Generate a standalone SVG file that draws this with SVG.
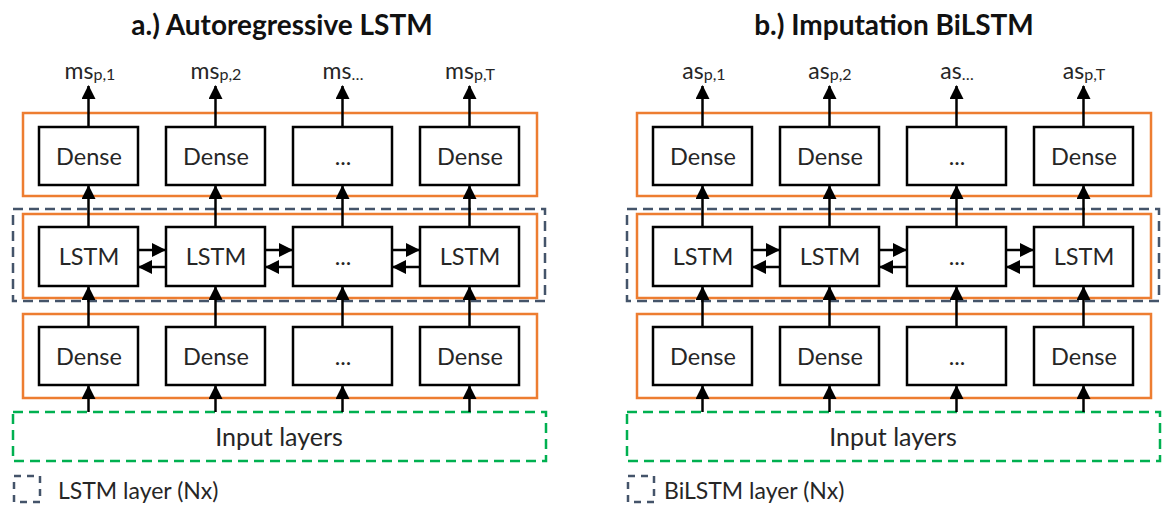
<svg xmlns="http://www.w3.org/2000/svg" width="1162" height="507" viewBox="0 0 1162 507">
<style>
text{font-family:Lato,"Open Sans",sans-serif;fill:#262626}
.t{font-size:28px;font-weight:bold;text-anchor:middle;fill:#111}
.bx{fill:#fff;stroke:#000;stroke-width:2.5}
.bl{font-size:23.5px;text-anchor:middle}
.in{font-size:25px;text-anchor:middle}
.lg{font-size:23px}
.or{fill:none;stroke:#ED7D31;stroke-width:2.5}
.gd{fill:none;stroke:#44546A;stroke-width:2.5;stroke-dasharray:10,6}
.gr{fill:none;stroke:#00B050;stroke-width:2.5;stroke-dasharray:10,6}
.ar{stroke:#000;stroke-width:2.5;fill:none;marker-end:url(#ah)}
.lb{font-size:23px;text-anchor:middle}
.sb{font-size:16px}
</style>
<defs>
<marker id="ah" markerUnits="userSpaceOnUse" markerWidth="14" markerHeight="14" refX="13" refY="7" orient="auto">
<path d="M0,0 L14,7 L0,14 z" fill="#000"/>
</marker>
</defs>

<!-- Panel a -->
<g id="panel-a">
<text class="t" x="282" y="35">a.) Autoregressive LSTM</text>
<g id="a-outputs">
<text class="lb" x="90" y="79">ms<tspan class="sb" dy="1">p,1</tspan></text>
<text class="lb" x="216" y="79">ms<tspan class="sb" dy="1">p,2</tspan></text>
<text class="lb" x="343" y="79">ms<tspan class="sb" dy="1">…</tspan></text>
<text class="lb" x="470" y="79">ms<tspan class="sb" dy="1">p,T</tspan></text>
</g>
<g id="a-dense-top">
<rect class="or" x="23" y="113" width="514" height="83"/>
<rect class="bx" x="39" y="127" width="99" height="58"/><text class="bl" x="89" y="165">Dense</text>
<rect class="bx" x="166" y="127" width="99" height="58"/><text class="bl" x="216" y="165">Dense</text>
<rect class="bx" x="293" y="127" width="99" height="58"/><text class="bl" x="343" y="165">...</text>
<rect class="bx" x="420" y="127" width="99" height="58"/><text class="bl" x="470" y="165">Dense</text>
</g>
<g id="a-lstm">
<rect class="gd" x="13" y="209" width="532" height="92"/>
<rect class="or" x="23" y="214" width="514" height="84"/>
<rect class="bx" x="39" y="227" width="99" height="59"/><text class="bl" x="89" y="265">LSTM</text>
<rect class="bx" x="166" y="227" width="99" height="59"/><text class="bl" x="216" y="265">LSTM</text>
<rect class="bx" x="293" y="227" width="99" height="59"/><text class="bl" x="343" y="265">...</text>
<rect class="bx" x="420" y="227" width="99" height="59"/><text class="bl" x="470" y="265">LSTM</text>
</g>
<g id="a-dense-bottom">
<rect class="or" x="23" y="314" width="514" height="84"/>
<rect class="bx" x="39" y="327" width="99" height="58"/><text class="bl" x="89" y="365">Dense</text>
<rect class="bx" x="166" y="327" width="99" height="58"/><text class="bl" x="216" y="365">Dense</text>
<rect class="bx" x="293" y="327" width="99" height="58"/><text class="bl" x="343" y="365">...</text>
<rect class="bx" x="420" y="327" width="99" height="58"/><text class="bl" x="470" y="365">Dense</text>
</g>
<g id="a-input">
<rect class="gr" x="13" y="412" width="533" height="49"/>
<text class="in" x="279" y="446">Input layers</text>
</g>
<g id="a-legend">
<rect class="gd" x="14" y="476" width="26" height="26" style="stroke-dasharray:7,6"/>
<text class="lg" x="58" y="499">LSTM layer (Nx)</text>
</g>
</g>

<!-- Panel b -->
<g id="panel-b">
<text class="t" x="894" y="35">b.) Imputation BiLSTM</text>
<g id="b-outputs">
<text class="lb" x="704" y="79">as<tspan class="sb" dy="1">p,1</tspan></text>
<text class="lb" x="830" y="79">as<tspan class="sb" dy="1">p,2</tspan></text>
<text class="lb" x="957" y="79">as<tspan class="sb" dy="1">…</tspan></text>
<text class="lb" x="1084" y="79">as<tspan class="sb" dy="1">p,T</tspan></text>
</g>
<g id="b-dense-top">
<rect class="or" x="637" y="113" width="514" height="83"/>
<rect class="bx" x="653" y="127" width="99" height="58"/><text class="bl" x="703" y="165">Dense</text>
<rect class="bx" x="780" y="127" width="99" height="58"/><text class="bl" x="830" y="165">Dense</text>
<rect class="bx" x="907" y="127" width="99" height="58"/><text class="bl" x="957" y="165">...</text>
<rect class="bx" x="1034" y="127" width="99" height="58"/><text class="bl" x="1084" y="165">Dense</text>
</g>
<g id="b-lstm">
<rect class="gd" x="627" y="209" width="532" height="92"/>
<rect class="or" x="637" y="214" width="514" height="84"/>
<rect class="bx" x="653" y="227" width="99" height="59"/><text class="bl" x="703" y="265">LSTM</text>
<rect class="bx" x="780" y="227" width="99" height="59"/><text class="bl" x="830" y="265">LSTM</text>
<rect class="bx" x="907" y="227" width="99" height="59"/><text class="bl" x="957" y="265">...</text>
<rect class="bx" x="1034" y="227" width="99" height="59"/><text class="bl" x="1084" y="265">LSTM</text>
</g>
<g id="b-dense-bottom">
<rect class="or" x="637" y="314" width="514" height="84"/>
<rect class="bx" x="653" y="327" width="99" height="58"/><text class="bl" x="703" y="365">Dense</text>
<rect class="bx" x="780" y="327" width="99" height="58"/><text class="bl" x="830" y="365">Dense</text>
<rect class="bx" x="907" y="327" width="99" height="58"/><text class="bl" x="957" y="365">...</text>
<rect class="bx" x="1034" y="327" width="99" height="58"/><text class="bl" x="1084" y="365">Dense</text>
</g>
<g id="b-input">
<rect class="gr" x="627" y="412" width="533" height="49"/>
<text class="in" x="893" y="446">Input layers</text>
</g>
<g id="b-legend">
<rect class="gd" x="628" y="476" width="26" height="26" style="stroke-dasharray:7,6"/>
<text class="lg" x="664" y="499">BiLSTM layer (Nx)</text>
</g>
</g>

<g id="connectors">
<!-- panel a vertical -->
<path class="ar" d="M88.5,412 V386"/><path class="ar" d="M88.5,327 V287"/><path class="ar" d="M88.5,227 V186"/><path class="ar" d="M88.5,127 V86"/>
<path class="ar" d="M215.5,412 V386"/><path class="ar" d="M215.5,327 V287"/><path class="ar" d="M215.5,227 V186"/><path class="ar" d="M215.5,127 V86"/>
<path class="ar" d="M342.5,412 V386"/><path class="ar" d="M342.5,327 V287"/><path class="ar" d="M342.5,227 V186"/><path class="ar" d="M342.5,127 V86"/>
<path class="ar" d="M469.5,412 V386"/><path class="ar" d="M469.5,327 V287"/><path class="ar" d="M469.5,227 V186"/><path class="ar" d="M469.5,127 V86"/>
<!-- panel a horizontal -->
<path class="ar" d="M138,250 H165"/><path class="ar" d="M166,267 H139"/>
<path class="ar" d="M265,250 H292"/><path class="ar" d="M293,267 H266"/>
<path class="ar" d="M392,250 H419"/><path class="ar" d="M420,267 H393"/>
<!-- panel b vertical -->
<path class="ar" d="M702.5,412 V386"/><path class="ar" d="M702.5,327 V287"/><path class="ar" d="M702.5,227 V186"/><path class="ar" d="M702.5,127 V86"/>
<path class="ar" d="M829.5,412 V386"/><path class="ar" d="M829.5,327 V287"/><path class="ar" d="M829.5,227 V186"/><path class="ar" d="M829.5,127 V86"/>
<path class="ar" d="M956.5,412 V386"/><path class="ar" d="M956.5,327 V287"/><path class="ar" d="M956.5,227 V186"/><path class="ar" d="M956.5,127 V86"/>
<path class="ar" d="M1083.5,412 V386"/><path class="ar" d="M1083.5,327 V287"/><path class="ar" d="M1083.5,227 V186"/><path class="ar" d="M1083.5,127 V86"/>
<!-- panel b horizontal -->
<path class="ar" d="M752,250 H779"/><path class="ar" d="M780,267 H753"/>
<path class="ar" d="M879,250 H906"/><path class="ar" d="M907,267 H880"/>
<path class="ar" d="M1006,250 H1033"/><path class="ar" d="M1034,267 H1007"/>
</g>
</svg>
